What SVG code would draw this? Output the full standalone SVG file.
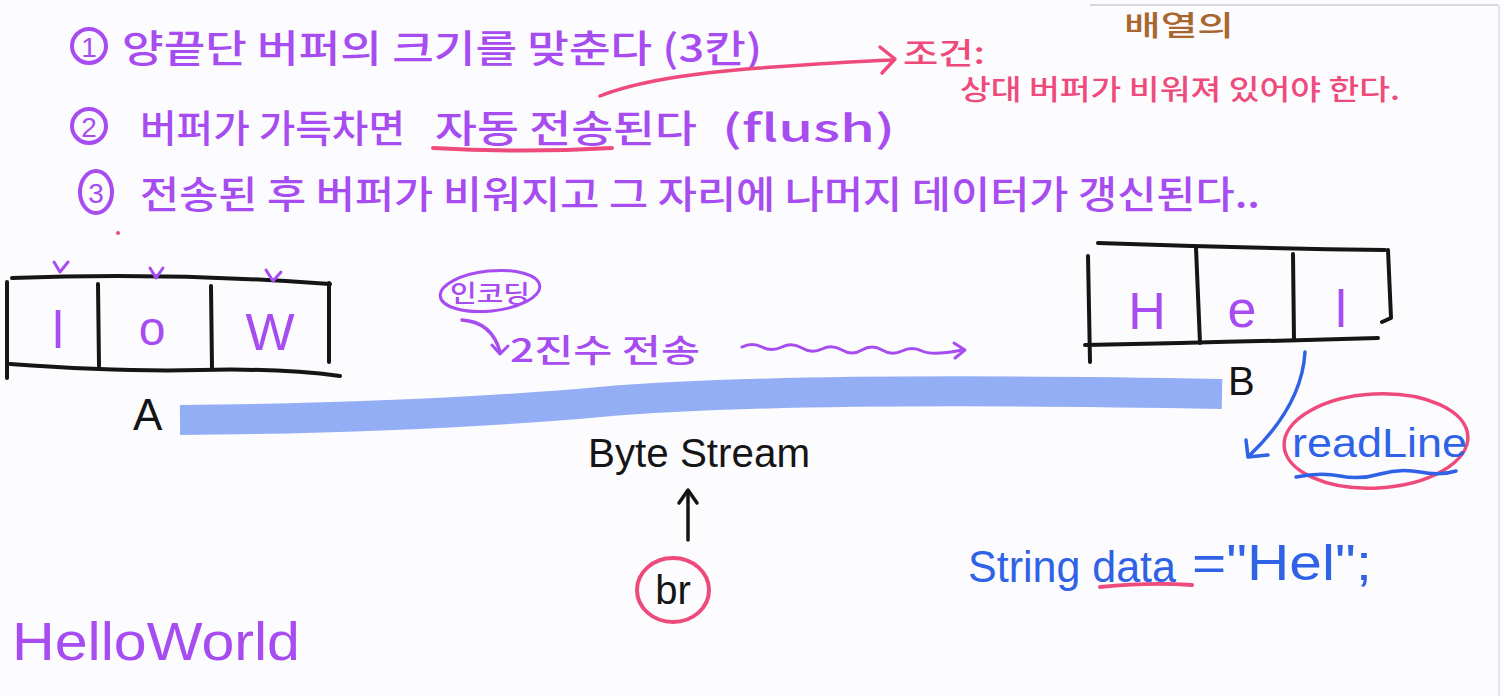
<svg xmlns="http://www.w3.org/2000/svg" width="1503" height="696" viewBox="0 0 1503 696">
<style>
.kr{font-family:"Noto Sans CJK KR","Noto Sans",sans-serif;font-weight:500;}
.lat{font-family:"Liberation Sans","DejaVu Sans",sans-serif;}
.pu{fill:#a64cf0;}
.pk{fill:#ef4a7c;}
.bl{fill:#2f62e6;}
.bk{fill:#151515;}
.ln{fill:none;stroke-linecap:round;stroke-linejoin:round;}
.box{fill:none;stroke:#151515;stroke-width:4;stroke-linecap:round;stroke-linejoin:round;}
</style>
<rect width="1503" height="696" fill="#fcfbfd"/>
<line x1="1090" y1="5" x2="1498" y2="5" stroke="#d8d8dc" stroke-width="2"/>
<line x1="1499" y1="5" x2="1499" y2="696" stroke="#e4e4e8" stroke-width="2"/>

<g id="note-top-right">
<text class="kr" x="1124" y="36" font-size="28" fill="#a8672f" textLength="110" lengthAdjust="spacingAndGlyphs">배열의</text>
</g>

<g id="step1">
<circle cx="89" cy="46" r="17" fill="none" stroke="#a64cf0" stroke-width="4"/>
<text class="lat pu" x="89" y="57" font-size="28" text-anchor="middle">1</text>
<text class="kr pu" x="122" y="62" font-size="38" textLength="640" lengthAdjust="spacingAndGlyphs">양끝단 버퍼의 크기를 맞춘다 (3칸)</text>
</g>

<g id="condition">
<text class="kr pk" x="903" y="64" font-size="30" textLength="82" lengthAdjust="spacingAndGlyphs">조건:</text>
<text class="kr pk" x="960" y="100" font-size="28" textLength="440" lengthAdjust="spacingAndGlyphs">상대 버퍼가 비워져 있어야 한다.</text>
</g>

<g id="step2">
<circle cx="89" cy="126" r="17" fill="none" stroke="#a64cf0" stroke-width="4"/>
<text class="lat pu" x="89" y="137" font-size="28" text-anchor="middle">2</text>
<text class="kr pu" x="140" y="142" font-size="38" textLength="265" lengthAdjust="spacingAndGlyphs">버퍼가 가득차면</text>
<text class="kr pu" x="435" y="142" font-size="38" textLength="262" lengthAdjust="spacingAndGlyphs">자동 전송된다</text>
<text class="kr pu" x="722" y="142" font-size="38" textLength="173" lengthAdjust="spacingAndGlyphs">(flush)</text>
<path class="ln" d="M433 148 Q520 153 612 148" stroke="#ef4a7c" stroke-width="4"/>
</g>

<g id="step3">
<ellipse cx="96" cy="192" rx="16" ry="21" fill="none" stroke="#a64cf0" stroke-width="4"/>
<text class="lat pu" x="96" y="203" font-size="28" text-anchor="middle">3</text>
<text class="kr pu" x="140" y="208" font-size="38" textLength="1120" lengthAdjust="spacingAndGlyphs">전송된 후 버퍼가 비워지고 그 자리에 나머지 데이터가 갱신된다..</text>
<circle cx="118" cy="233" r="2" fill="#ef4a7c"/>
</g>

<g id="buffer-A">
<path class="box" d="M12 278 Q170 272 330 284"/>
<path class="box" d="M10 364 Q120 372 200 370 T340 376"/>
<path class="box" d="M7 282 L7 378"/>
<path class="box" d="M98 284 L99 366"/>
<path class="box" d="M211 286 L212 368"/>
<path class="box" d="M329 283 L329 362"/>
<text class="lat pu" x="58" y="348" font-size="52" text-anchor="middle">l</text>
<text class="lat pu" x="152" y="345" font-size="48" text-anchor="middle">o</text>
<text class="lat pu" x="270" y="350" font-size="52" text-anchor="middle">W</text>
<path class="ln" d="M54 262 L60 272 L68 262" stroke="#a64cf0" stroke-width="3"/>
<path class="ln" d="M150 268 L156 278 L163 268" stroke="#a64cf0" stroke-width="3"/>
<path class="ln" d="M266 270 L273 281 L281 272" stroke="#a64cf0" stroke-width="3"/>
<text class="lat bk" x="133" y="430" font-size="44">A</text>
</g>

<g id="buffer-B">
<path class="box" d="M1098 243 Q1240 248 1385 250"/>
<path class="box" d="M1085 345 Q1240 342 1378 338"/>
<path class="box" d="M1088 256 L1090 362"/>
<path class="box" d="M1196 248 L1200 343"/>
<path class="box" d="M1293 254 L1294 340"/>
<path class="box" d="M1388 250 L1391 318 L1382 322"/>
<text class="lat pu" x="1147" y="329" font-size="52" text-anchor="middle">H</text>
<text class="lat pu" x="1242" y="327" font-size="52" text-anchor="middle">e</text>
<text class="lat pu" x="1341" y="327" font-size="52" text-anchor="middle">l</text>
<text class="lat bk" x="1228" y="395" font-size="40">B</text>
</g>

<g id="stream">
<path d="M180 420 Q420 418 600 402 T1222 394" fill="none" stroke="#94aef6" stroke-width="30" style="stroke-linecap:butt"/>
<text class="lat bk" x="588" y="467" font-size="40" textLength="222" lengthAdjust="spacingAndGlyphs">Byte Stream</text>
</g>

<g id="encoding">
<ellipse cx="490" cy="291" rx="50" ry="20" fill="none" stroke="#a64cf0" stroke-width="3" transform="rotate(-6 490 291)"/>
<text class="kr pu" x="450" y="302" font-size="24" textLength="80" lengthAdjust="spacingAndGlyphs">인코딩</text>
<text class="kr pu" x="510" y="362" font-size="32" textLength="190" lengthAdjust="spacingAndGlyphs">2진수 전송</text>
</g>

<g id="br">
<ellipse cx="673" cy="590" rx="36" ry="32" fill="none" stroke="#ef4a7c" stroke-width="4"/>
<text class="lat bk" x="673" y="604" font-size="40" text-anchor="middle">br</text>
</g>

<g id="readline">
<ellipse cx="1376" cy="441" rx="92" ry="47" fill="none" stroke="#ef4a7c" stroke-width="3.5" transform="rotate(-3 1376 441)"/>
<text class="lat bl" x="1292" y="457" font-size="40" textLength="175" lengthAdjust="spacingAndGlyphs">readLine</text>
<path class="ln" d="M1296 477 Q1320 472 1340 476 T1380 474 T1420 472 T1456 471" stroke="#2f62e6" stroke-width="3.5"/>
</g>

<g id="string-data">
<text class="lat bl" x="968" y="582" font-size="44" textLength="208" lengthAdjust="spacingAndGlyphs">String data</text>
<text class="lat bl" x="1192" y="580" font-size="50" textLength="180" lengthAdjust="spacingAndGlyphs">="Hel";</text>
<path class="ln" d="M1100 587 Q1150 582 1192 585" stroke="#ef4a7c" stroke-width="4"/>
</g>

<g id="helloworld">
<text class="lat pu" x="12" y="660" font-size="54" textLength="288" lengthAdjust="spacingAndGlyphs">HelloWorld</text>
</g>

<g id="connectors">
<path class="ln" d="M600 96 Q650 76 760 68 Q840 62 893 60" stroke="#ef4a7c" stroke-width="3.5"/>
<path class="ln" d="M880 47 L895 59 L882 73" stroke="#ef4a7c" stroke-width="3.5"/>
<path class="ln" d="M462 320 Q492 322 500 352" stroke="#a64cf0" stroke-width="3.5"/>
<path class="ln" d="M492 345 L500 354 L508 346" stroke="#a64cf0" stroke-width="3"/>
<path class="ln" d="M742 347 Q752 342 762 347 T782 347 T802 348 T822 349 T842 350 T862 350 T882 350 T902 351 T922 351 T962 350" stroke="#a64cf0" stroke-width="3"/>
<path class="ln" d="M954 343 L965 350 L955 358" stroke="#a64cf0" stroke-width="3"/>
<path class="ln" d="M1305 352 Q1302 405 1250 455" stroke="#2f62e6" stroke-width="3.5"/>
<path class="ln" d="M1246 440 L1248 457 L1268 455" stroke="#2f62e6" stroke-width="3.5"/>
<path class="ln" d="M688 540 L688 492" stroke="#151515" stroke-width="3.5"/>
<path class="ln" d="M679 503 L688 490 L697 503" stroke="#151515" stroke-width="3.5"/>
</g>
</svg>
